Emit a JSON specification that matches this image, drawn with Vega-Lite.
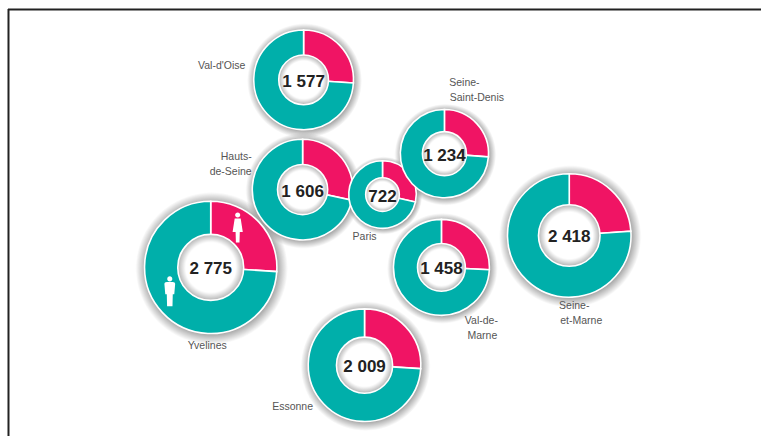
{
"$schema":"https://vega.github.io/schema/vega-lite/v6.json",
"width":762,"height":437,"padding":0,
"autosize":{"type":"fit","contains":"padding"},
"background":"white",
"config":{"view":{"stroke":null}},
"datasets":{
"departments":[
{"dept":"Val-d'Oise","mapx":304,"mapy":80,"total":1577,"label":"1 577"},
{"dept":"Seine-Saint-Denis","mapx":445,"mapy":154,"total":1234,"label":"1 234"},
{"dept":"Seine-et-Marne","mapx":570,"mapy":236,"total":2418,"label":"2 418"},
{"dept":"Val-de-Marne","mapx":442,"mapy":268,"total":1458,"label":"1 458"},
{"dept":"Yvelines","mapx":211,"mapy":268,"total":2775,"label":"2 775"},
{"dept":"Essonne","mapx":365,"mapy":366,"total":2009,"label":"2 009"},
{"dept":"Hauts-de-Seine","mapx":303,"mapy":190,"total":1606,"label":"1 606"},
{"dept":"Paris","mapx":383,"mapy":195,"total":722,"label":"722"}
],
"shares":[
{"dept":"Val-d'Oise","mapx":304,"mapy":80,"total":1577,"gender":"Femmes","rank":1,"count":410},
{"dept":"Val-d'Oise","mapx":304,"mapy":80,"total":1577,"gender":"Hommes","rank":2,"count":1167},
{"dept":"Seine-Saint-Denis","mapx":445,"mapy":154,"total":1234,"gender":"Femmes","rank":1,"count":323},
{"dept":"Seine-Saint-Denis","mapx":445,"mapy":154,"total":1234,"gender":"Hommes","rank":2,"count":911},
{"dept":"Seine-et-Marne","mapx":570,"mapy":236,"total":2418,"gender":"Femmes","rank":1,"count":578},
{"dept":"Seine-et-Marne","mapx":570,"mapy":236,"total":2418,"gender":"Hommes","rank":2,"count":1840},
{"dept":"Val-de-Marne","mapx":442,"mapy":268,"total":1458,"gender":"Femmes","rank":1,"count":376},
{"dept":"Val-de-Marne","mapx":442,"mapy":268,"total":1458,"gender":"Hommes","rank":2,"count":1082},
{"dept":"Yvelines","mapx":211,"mapy":268,"total":2775,"gender":"Femmes","rank":1,"count":722},
{"dept":"Yvelines","mapx":211,"mapy":268,"total":2775,"gender":"Hommes","rank":2,"count":2053},
{"dept":"Essonne","mapx":365,"mapy":366,"total":2009,"gender":"Femmes","rank":1,"count":522},
{"dept":"Essonne","mapx":365,"mapy":366,"total":2009,"gender":"Hommes","rank":2,"count":1487},
{"dept":"Hauts-de-Seine","mapx":303,"mapy":190,"total":1606,"gender":"Femmes","rank":1,"count":456},
{"dept":"Hauts-de-Seine","mapx":303,"mapy":190,"total":1606,"gender":"Hommes","rank":2,"count":1150},
{"dept":"Paris","mapx":383,"mapy":195,"total":722,"gender":"Femmes","rank":1,"count":206},
{"dept":"Paris","mapx":383,"mapy":195,"total":722,"gender":"Hommes","rank":2,"count":516}
],
"names":[
{"line":"Val-d'Oise","mapx":222,"mapy":66},
{"line":"Seine-","mapx":465,"mapy":83},
{"line":"Saint-Denis","mapx":477.5,"mapy":98},
{"line":"Hauts-","mapx":236.5,"mapy":157},
{"line":"de-Seine","mapx":231,"mapy":172},
{"line":"Paris","mapx":365,"mapy":238},
{"line":"Seine-","mapx":575,"mapy":307},
{"line":"et-Marne","mapx":582,"mapy":322},
{"line":"Val-de-","mapx":482,"mapy":322},
{"line":"Marne","mapx":483,"mapy":337},
{"line":"Yvelines","mapx":207.5,"mapy":347},
{"line":"Essonne","mapx":293,"mapy":408}
],
"figures":[
{"figure":"Femme","mapx":238,"mapy":228},
{"figure":"Homme","mapx":170,"mapy":292}
],
"frame":[
{"a":8,"b":9.5,"a2":762,"b2":9.5},
{"a":8.5,"b":9,"a2":8.5,"b2":437}
]
},
"layer":[
{"data":{"name":"frame"},"mark":{"type":"rule","color":"#222222","strokeWidth":2},
 "encoding":{"x":{"field":"a","type":"quantitative","scale":{"domain":[0,762],"nice":false,"zero":false},"axis":null},
 "y":{"field":"b","type":"quantitative","scale":{"domain":[437,0],"nice":false,"zero":false},"axis":null},
 "x2":{"field":"a2"},"y2":{"field":"b2"}}},
{"data":{"name":"departments"},"mark":{"type":"point","filled":true,"shape":"circle","strokeWidth":0,"opacity":1,
 "xOffset":1,"yOffset":1,
 "fill":{"gradient":"radial","x1":0.5,"y1":0.5,"r1":0,"x2":0.5,"y2":0.5,"r2":0.5,
  "stops":[{"offset":0,"color":"rgba(120,120,120,0.75)"},{"offset":0.84,"color":"rgba(120,120,120,0.75)"},{"offset":1,"color":"rgba(120,120,120,0)"}]}},
 "encoding":{"x":{"field":"mapx","type":"quantitative","axis":null},"y":{"field":"mapy","type":"quantitative","axis":null},
 "size":{"field":"total","type":"quantitative","scale":{"type":"linear","domain":[0,3000],"range":[0,25000]},"legend":null}}},
{"data":{"name":"shares"},
 "transform":[{"stack":"count","groupby":["dept"],"sort":[{"field":"rank","order":"ascending"}],"offset":"normalize","as":["t0","t1"]}],
 "mark":{"type":"arc","stroke":"white","strokeWidth":1.6},
 "encoding":{"x":{"field":"mapx","type":"quantitative","axis":null},"y":{"field":"mapy","type":"quantitative","axis":null},
 "theta":{"field":"t0","type":"quantitative","stack":null,"scale":{"domain":[0,1],"range":[0,6.2832]}},
 "theta2":{"field":"t1"},
 "radius":{"field":"total","type":"quantitative","scale":{"type":"sqrt","domain":[0,3000],"range":[0,68.8]}},
 "color":{"field":"gender","type":"nominal","scale":{"domain":["Femmes","Hommes"],"range":["#F01464","#00AFAA"]},"legend":null},
 "order":{"field":"rank"}}},
{"data":{"name":"departments"},"mark":{"type":"point","filled":true,"shape":"circle","opacity":1,"stroke":"white","strokeWidth":1.6,
 "fill":{"gradient":"radial","x1":0.5,"y1":0.5,"r1":0,"x2":0.5,"y2":0.5,"r2":0.5,
  "stops":[{"offset":0,"color":"#ffffff"},{"offset":0.76,"color":"#ffffff"},{"offset":1,"color":"#b4b4b4"}]}},
 "encoding":{"x":{"field":"mapx","type":"quantitative","axis":null},"y":{"field":"mapy","type":"quantitative","axis":null},
 "size":{"field":"total","type":"quantitative","scale":{"type":"linear","domain":[0,3000],"range":[0,4700]},"legend":null}}},
{"data":{"name":"departments"},"mark":{"type":"text","font":"Liberation Sans","fontWeight":"bold","fontSize":17,"color":"#222222","baseline":"middle","dy":2},
 "encoding":{"x":{"field":"mapx","type":"quantitative","axis":null},"y":{"field":"mapy","type":"quantitative","axis":null},"text":{"field":"label"}}},
{"data":{"name":"names"},"mark":{"type":"text","font":"Liberation Sans","fontSize":10.5,"color":"#555555","baseline":"middle"},
 "encoding":{"x":{"field":"mapx","type":"quantitative","axis":null},"y":{"field":"mapy","type":"quantitative","axis":null},"text":{"field":"line"}}},
{"data":{"name":"figures"},"mark":{"type":"point","filled":true,"opacity":1,"color":"white","size":900,"strokeWidth":0},
 "encoding":{"x":{"field":"mapx","type":"quantitative","axis":null},"y":{"field":"mapy","type":"quantitative","axis":null},
 "shape":{"field":"figure","type":"nominal","legend":null,"scale":{"domain":["Femme","Homme"],"range":[
 "M-0.17,-0.83A0.17,0.17,0,1,1,0.17,-0.83A0.17,0.17,0,1,1,-0.17,-0.83ZM-0.2,-0.6L0.2,-0.6L0.34,0.3L0.14,0.3L0.12,1L-0.12,1L-0.14,0.3L-0.34,0.3Z",
 "M-0.17,-0.83A0.17,0.17,0,1,1,0.17,-0.83A0.17,0.17,0,1,1,-0.17,-0.83ZM-0.36,-0.5Q-0.36,-0.62,-0.2,-0.62L0.2,-0.62Q0.36,-0.62,0.36,-0.5L0.3,0.2L0.2,0.2L0.18,1L-0.18,1L-0.2,0.2L-0.3,0.2Z"]}}}}
],
"resolve":{"scale":{"size":"independent"}}
}
